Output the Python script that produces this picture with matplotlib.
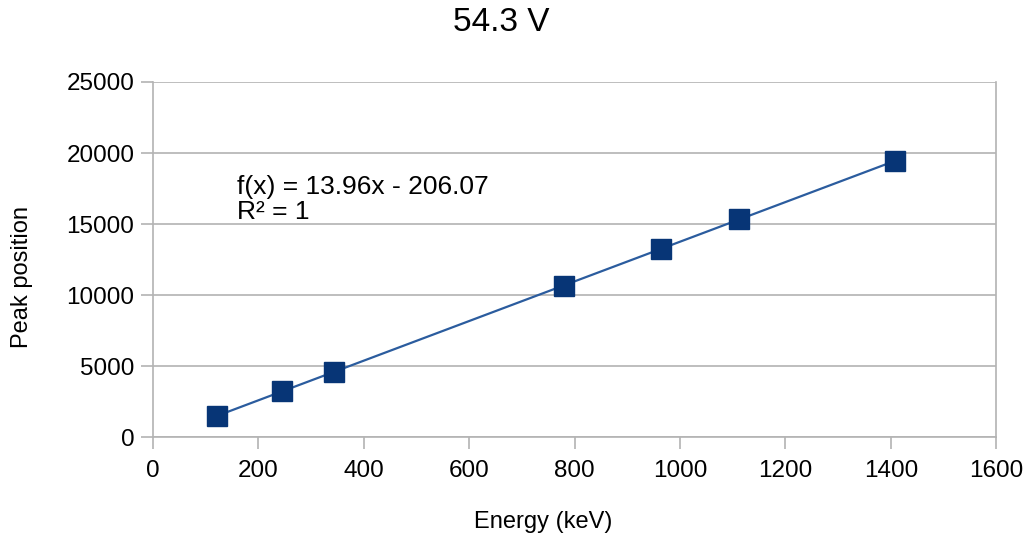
import matplotlib.pyplot as plt
import numpy as np

plt.rcParams['font.family'] = ['Liberation Sans', 'DejaVu Sans']

energy = [121.8, 244.7, 344.3, 778.9, 964.1, 1112.1, 1408.0]
peak = [1494, 3210, 4600, 10668, 13252, 15318, 19449]

fig = plt.figure(figsize=(10.29, 5.37), dpi=100)
ax = fig.add_axes([0.1487, 0.1862, 0.8195, 0.6611])

slope, icpt = np.polyfit(energy, peak, 1)
xf = np.array([min(energy), max(energy)])
ax.plot(xf, slope * xf + icpt, color='#2b5c9e', lw=1.6, zorder=2)
ax.plot(energy, peak, 's', color='#073576', ms=14.5, zorder=3)

ax.set_xlim(0, 1600)
ax.set_ylim(0, 25000)
ax.set_xticks(range(0, 1601, 200))
ax.set_yticks(range(0, 25001, 5000))
ax.grid(axis='y', color='#b3b3b3', lw=1.2)
ax.set_axisbelow(True)
for s in ['left', 'bottom', 'right']:
    ax.spines[s].set_color('#b3b3b3')
    ax.spines[s].set_linewidth(1.2)
ax.spines['top'].set_visible(False)
ax.tick_params(colors='#b3b3b3', labelcolor='black', labelsize=17.5, length=8.5,
               width=1.2)
ax.tick_params(axis='x', pad=8)
ax.tick_params(axis='y', pad=5)

ax.set_xlabel('Energy (keV)', fontsize=17, va='center')
ax.xaxis.set_label_coords(0.4626, -0.2394)
ax.set_ylabel('Peak position', fontsize=17, va='center')
ax.yaxis.set_label_coords(-0.1554, 0.4507)
fig.text(0.487, 0.958, '54.3 V', fontsize=24, ha='center', va='center')

ax.text(160, 16700, 'f(x) = 13.96x - 206.07\nR² = 1', fontsize=19, va='center',
        linespacing=1.05)

fig.savefig('out.png', dpi=100)
